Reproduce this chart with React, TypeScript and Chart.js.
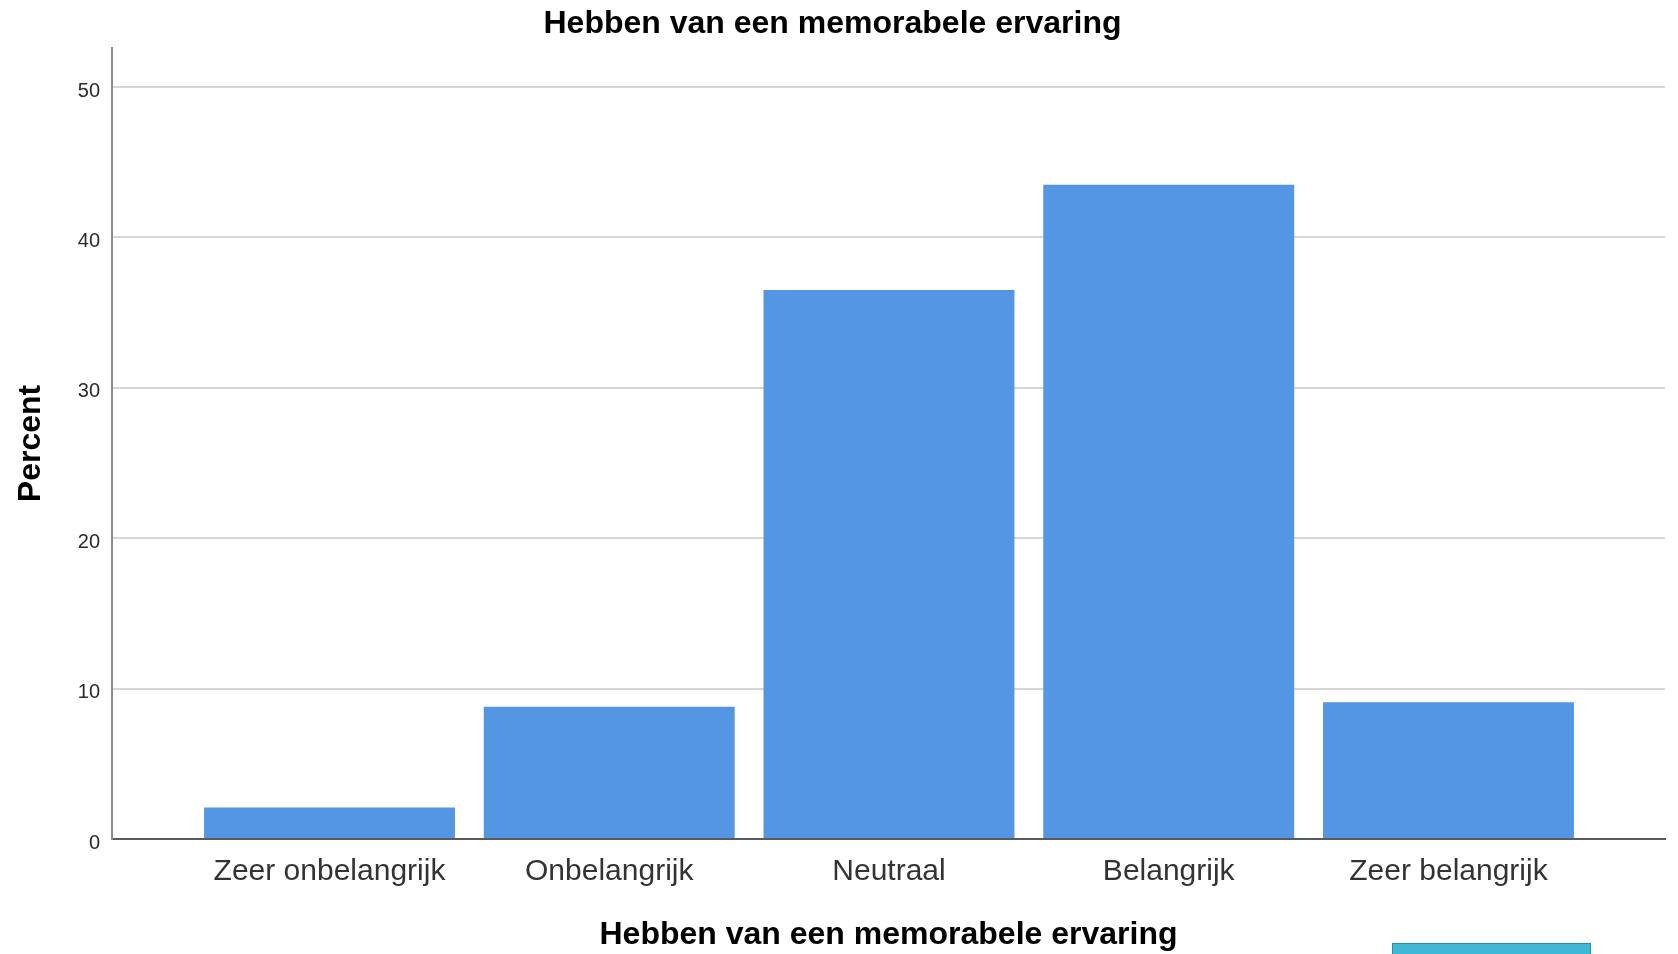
import React, { useEffect, useRef } from "react";
import { Chart, registerables } from "chart.js";

Chart.register(...registerables);

const chartTitle = "Hebben van een memorabele ervaring";
const xTitle = "Hebben van een memorabele ervaring";
const yTitle = "Percent";
const categories = ["Zeer onbelangrijk", "Onbelangrijk", "Neutraal", "Belangrijk", "Zeer belangrijk"];
const percents = [2.1, 8.8, 36.5, 43.5, 9.1];
const yTicks = [0, 10, 20, 30, 40, 50];

const FONT = "'Liberation Sans', Arial, sans-serif";

export default function App() {
  const ref = useRef<HTMLCanvasElement | null>(null);

  useEffect(() => {
    if (!ref.current) return;
    const points = percents.map((v, i) => ({ x: i + 1, y: v }));
    const chart = new Chart(ref.current, {
      type: "bar",
      data: {
        datasets: [
          {
            data: points,
            backgroundColor: "#5596e4",
            borderWidth: 0,
            barPercentage: 0.897,
            categoryPercentage: 1,
          },
        ],
      },
      options: {
        animation: false,
        responsive: false,
        maintainAspectRatio: false,
        layout: { padding: { left: 0, right: 13, top: 0, bottom: 0 } },
        plugins: {
          legend: { display: false },
          tooltip: { enabled: false },
          title: {
            display: true,
            text: chartTitle,
            color: "#000",
            font: { family: FONT, size: 32, weight: "bold" },
            padding: { top: 5, bottom: 4.6 },
          },
        },
        scales: {
          x: {
            type: "linear",
            offset: false,
            min: 0.2225,
            max: 5.774,
            afterBuildTicks: (scale: any) => {
              scale.ticks = categories.map((_, i) => ({ value: i + 1 }));
            },
            afterFit: (scale: any) => {
              scale.height = 115;
            },
            grid: { display: false, drawTicks: false, offset: false },
            border: { display: true, color: "#5a5a5a", width: 2 },
            ticks: {
              autoSkip: false,
              maxRotation: 0,
              padding: 15,
              color: "#333333",
              font: { family: FONT, size: 30 },
              callback: (v: any) => categories[Number(v) - 1] ?? "",
            },
            title: {
              display: true,
              text: xTitle,
              color: "#000",
              font: { family: FONT, size: 32, weight: "bold" },
              padding: { top: 0, bottom: 0 },
            },
          },
          y: {
            type: "linear",
            min: 0,
            max: 52.6,
            afterBuildTicks: (scale: any) => {
              scale.ticks = yTicks.map((v) => ({ value: v }));
            },
            afterFit: (scale: any) => {
              scale.width = 112;
            },
            grid: { color: "#d6d6d6", lineWidth: 2, drawTicks: false },
            border: { display: true, color: "#8a8a8a", width: 2 },
            ticks: {
              padding: 12,
              labelOffset: 4,
              color: "#2b2b2b",
              font: { family: FONT, size: 20 },
            },
            title: {
              display: true,
              text: yTitle,
              color: "#000",
              font: { family: FONT, size: 32, weight: "bold" },
              padding: { top: 12, bottom: 0 },
            },
          },
        },
      },
    });
    return () => chart.destroy();
  }, []);

  return (
    <div
      style={{
        position: "absolute",
        left: 0,
        top: 0,
        width: 1678,
        height: 954,
        overflow: "hidden",
        background: "#fff",
      }}
    >
      <canvas ref={ref} width={1678} height={954} style={{ display: "block" }} />
      <div
        style={{
          position: "absolute",
          left: 1392,
          top: 943,
          width: 197,
          height: 20,
          background: "#3fb8d5",
          border: "1.5px solid #2b8fa5",
        }}
      />
    </div>
  );
}
